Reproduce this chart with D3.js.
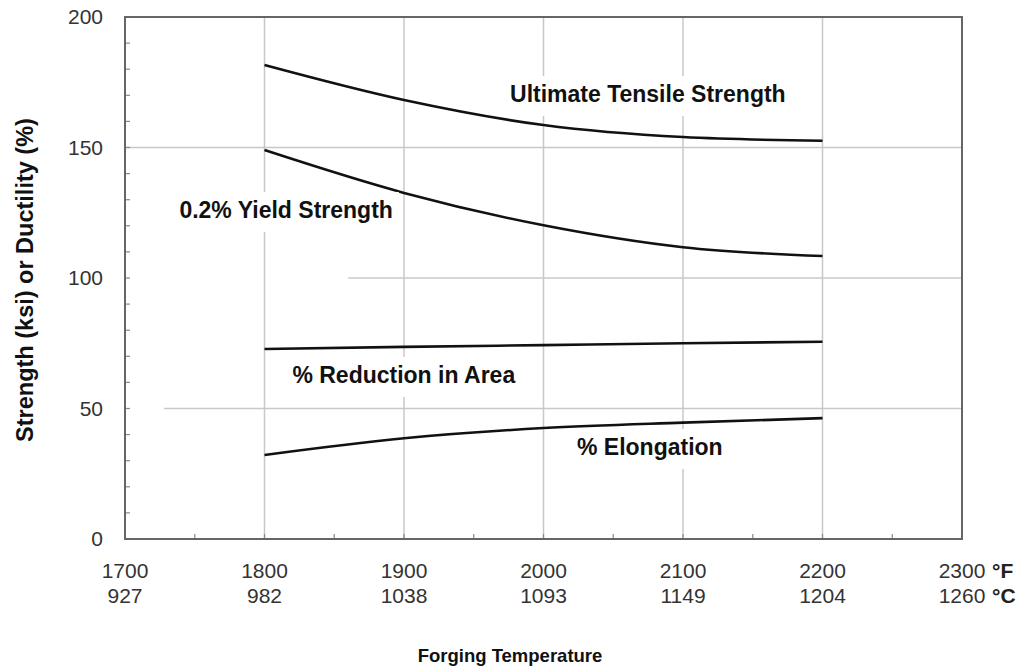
<!DOCTYPE html>
<html>
<head>
<meta charset="utf-8">
<script src="https://cdn.jsdelivr.net/npm/d3@7"></script>
<style>
  body { margin: 0; background: #fff; }
  svg { font-family: "Liberation Sans", Arial, sans-serif; }
</style>
</head>
<body>
<svg id="chart" width="1021" height="668"></svg>
<script>
// forging temperature, deg F
var tempF = [1800, 1900, 2000, 2100, 2200];
var uts = [181.6, 168.2, 158.6, 154.0, 152.6];
var yieldStr = [149.0, 132.6, 120.2, 111.8, 108.4];
var redArea = [72.8, 73.6, 74.3, 75.0, 75.6];
var elong = [32.2, 38.6, 42.5, 44.6, 46.3];

var tickF = [1700, 1800, 1900, 2000, 2100, 2200, 2300];
var tickC = [927, 982, 1038, 1093, 1149, 1204, 1260];
var tickY = [0, 50, 100, 150, 200];

var seriesNames = ['Ultimate Tensile Strength', '0.2% Yield Strength', '% Reduction in Area', '% Elongation'];
// label anchor: left edge temp and baseline value
var labelF = [1976, 1739, 1820, 2024];
var labelV = [167.4, 123, 59.8, 32.2];

var svg = d3.select('#chart');

var x = d3.scaleLinear().domain([1700, 2300]).range([125, 962]);
var y = d3.scaleLinear().domain([0, 200]).range([539, 17]);

var gridCol = '#c8c8c8';

// vertical grid
svg.append('g').selectAll('line')
    .data(tickF.slice(1, -1))
    .enter().append('line')
    .attr('x1', function(d) { return x(d); })
    .attr('x2', function(d) { return x(d); })
    .attr('y1', y(200))
    .attr('y2', y(0))
    .attr('stroke', gridCol)
    .attr('stroke-width', 1.5);

// horizontal grid (start differs per line, as in the source)
var hStart = {50: 1728, 100: 1860, 150: 1700};
svg.append('g').selectAll('line')
    .data([50, 100, 150])
    .enter().append('line')
    .attr('x1', function(d) { return x(hStart[d]); })
    .attr('x2', x(2300))
    .attr('y1', function(d) { return y(d); })
    .attr('y2', function(d) { return y(d); })
    .attr('stroke', gridCol)
    .attr('stroke-width', 1.5);

// minor ticks, inward
svg.append('g').selectAll('line')
    .data(d3.range(10, 200, 10))
    .enter().append('line')
    .attr('x1', x(1700))
    .attr('x2', x(1700) + 5)
    .attr('y1', function(d) { return y(d); })
    .attr('y2', function(d) { return y(d); })
    .attr('stroke', '#888')
    .attr('stroke-width', 1.2);

svg.append('g').selectAll('line')
    .data(d3.range(1750, 2300, 50))
    .enter().append('line')
    .attr('x1', function(d) { return x(d); })
    .attr('x2', function(d) { return x(d); })
    .attr('y1', y(0))
    .attr('y2', y(0) - 5)
    .attr('stroke', '#888')
    .attr('stroke-width', 1.2);

// label backgrounds
var labelFont = 23;
var labels = svg.append('g');
seriesNames.forEach(function(name, i) {
    var t = labels.append('text')
        .attr('x', x(labelF[i]))
        .attr('y', y(labelV[i]))
        .attr('font-size', labelFont)
        .attr('font-weight', 'bold')
        .attr('fill', '#111')
        .text(name);
    var w = t.node().getComputedTextLength();
    labels.insert('rect', 'text')
        .attr('x', x(labelF[i]) - 6)
        .attr('y', y(labelV[i]) - 26)
        .attr('width', w + 12)
        .attr('height', 40)
        .attr('fill', '#fff');
});

// frame
svg.append('rect')
    .attr('x', x(1700))
    .attr('y', y(200))
    .attr('width', x(2300) - x(1700))
    .attr('height', y(0) - y(200))
    .attr('fill', 'none')
    .attr('stroke', '#666')
    .attr('stroke-width', 2);

// curves
var line = d3.line()
    .x(function(d) { return x(d[0]); })
    .y(function(d) { return y(d[1]); })
    .curve(d3.curveMonotoneX);

[uts, yieldStr, redArea, elong].forEach(function(vals) {
    svg.append('path')
        .datum(tempF.map(function(t, i) { return [t, vals[i]]; }))
        .attr('d', line)
        .attr('fill', 'none')
        .attr('stroke', '#111')
        .attr('stroke-width', 2.6);
});

labels.raise();

// y tick labels
svg.append('g').selectAll('text')
    .data(tickY)
    .enter().append('text')
    .attr('x', 103)
    .attr('y', function(d) { return y(d); })
    .attr('dy', '0.35em')
    .attr('text-anchor', 'end')
    .attr('font-size', 21)
    .attr('fill', '#333')
    .text(function(d) { return d; });

// x tick labels, two rows
var xt = svg.append('g');
xt.selectAll('text.f')
    .data(tickF)
    .enter().append('text')
    .attr('class', 'f')
    .attr('x', function(d) { return x(d); })
    .attr('y', 578)
    .attr('text-anchor', 'middle')
    .attr('font-size', 21)
    .attr('fill', '#333')
    .text(function(d) { return d; });
xt.selectAll('text.c')
    .data(tickC)
    .enter().append('text')
    .attr('class', 'c')
    .attr('x', function(d, i) { return x(tickF[i]); })
    .attr('y', 603)
    .attr('text-anchor', 'middle')
    .attr('font-size', 21)
    .attr('fill', '#333')
    .text(function(d) { return d; });

xt.append('text')
    .attr('x', x(2300) + 30)
    .attr('y', 578)
    .attr('font-size', 21)
    .attr('font-weight', 'bold')
    .attr('fill', '#222')
    .text('°F');
xt.append('text')
    .attr('x', x(2300) + 30)
    .attr('y', 603)
    .attr('font-size', 21)
    .attr('font-weight', 'bold')
    .attr('fill', '#222')
    .text('°C');

// axis titles
svg.append('text')
    .attr('x', 510)
    .attr('y', 662)
    .attr('text-anchor', 'middle')
    .attr('font-size', 18.5)
    .attr('font-weight', 'bold')
    .attr('fill', '#111')
    .text('Forging Temperature');

svg.append('text')
    .attr('transform', 'translate(33,280) rotate(-90)')
    .attr('text-anchor', 'middle')
    .attr('font-size', 23.5)
    .attr('font-weight', 'bold')
    .attr('fill', '#111')
    .text('Strength (ksi) or Ductility (%)');
</script>
</body>
</html>
